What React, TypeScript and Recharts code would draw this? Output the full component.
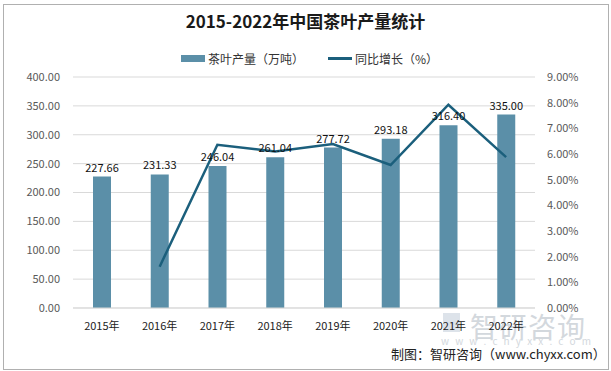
import React from 'react';
import {
  ComposedChart, Bar, Line, XAxis, YAxis, CartesianGrid, LabelList
} from 'recharts';

const years = ['2015年', '2016年', '2017年', '2018年', '2019年', '2020年', '2021年', '2022年'];
const output = [227.66, 231.33, 246.04, 261.04, 277.72, 293.18, 316.4, 335.0];
const growth = [null, 1.61, 6.36, 6.1, 6.39, 5.57, 7.92, 5.88];
const leftTicks = [0, 50, 100, 150, 200, 250, 300, 350, 400];
const rightTicks = [0, 1, 2, 3, 4, 5, 6, 7, 8, 9];

const data = years.map((name, i) => ({ name, output: output[i], growth: growth[i] }));

const barColor = '#5b8fa8';
const lineColor = '#1b5f7c';
const cjk = '"Noto Sans CJK SC", "Liberation Sans", sans-serif';
const markColor = '#d3d8dd';

const App: React.FC = () => {
  return (
    <div style={{ position: 'absolute', left: 0, top: 0, width: 611, height: 371, background: '#fff', fontFamily: cjk }}>
      <div style={{ position: 'absolute', left: 3, top: 4, width: 604, height: 364, border: '1px solid #b0b0b0' }} />
      <div style={{ position: 'absolute', left: 0, top: 8, width: 611, textAlign: 'center', fontSize: 17, fontWeight: 'bold', color: '#1a1a1a' }}>
        2015-2022年中国茶叶产量统计
      </div>
      {/* legend */}
      <div style={{ position: 'absolute', top: 50, left: 181, display: 'flex', alignItems: 'center', fontSize: 12, color: '#333' }}>
        <span style={{ display: 'inline-block', width: 24, height: 7, background: barColor, marginRight: 3 }} />
        <span>茶叶产量（万吨）</span>
        <span style={{ display: 'inline-block', width: 24, height: 3, background: lineColor, marginLeft: 24, marginRight: 3 }} />
        <span>同比增长（%）</span>
      </div>
      {/* watermark */}
      <div style={{ position: 'absolute', left: 443, top: 313, width: 17, height: 19, background: '#dde3ea' }} />
      <div style={{ position: 'absolute', left: 470, top: 306, fontSize: 28, color: markColor, letterSpacing: 1 }}>智研咨询</div>
      <div style={{ position: 'absolute', left: 441, top: 333, width: 150, display: 'flex', justifyContent: 'space-between', fontSize: 10, color: markColor }}>
        {'www.chyxx.com'.split('').map((c, i) => <span key={i}>{c}</span>)}
      </div>
      <div style={{ position: 'absolute', left: 391, top: 344, fontSize: 13, color: '#222' }}>制图：智研咨询（www.chyxx.com）</div>
      <div style={{ position: 'absolute', left: 0, top: 0 }}>
        <ComposedChart
          width={611}
          height={371}
          data={data}
          margin={{ top: 77, right: 6, left: 0, bottom: 33 }}
        >
          <CartesianGrid yAxisId="left" vertical={false} stroke="#d9d9d9" />
          <XAxis
            dataKey="name"
            axisLine={{ stroke: '#d9d9d9' }}
            tickLine={false}
            height={30}
            tickMargin={8}
            tick={{ fontSize: 11, fill: '#222', fontFamily: cjk }}
          />
          <YAxis
            yAxisId="left"
            width={73}
            domain={[0, 400]}
            ticks={leftTicks}
            axisLine={false}
            tickLine={false}
            tickSize={6}
            tickMargin={7}
            tickFormatter={(v: number) => v.toFixed(2)}
            tick={{ fontSize: 11, fill: '#595959', fontFamily: cjk }}
          />
          <YAxis
            yAxisId="right"
            orientation="right"
            width={70}
            domain={[0, 9]}
            ticks={rightTicks}
            axisLine={false}
            tickLine={false}
            tickSize={6}
            tickMargin={6}
            tickFormatter={(v: number) => `${v.toFixed(2)}%`}
            tick={{ fontSize: 11, fill: '#595959', fontFamily: cjk }}
          />
          <Bar yAxisId="left" dataKey="output" fill={barColor} barSize={18} isAnimationActive={false}>
            <LabelList
              dataKey="output"
              position="top"
              formatter={(v: number) => Number(v).toFixed(2)}
              style={{ fontSize: 11, fill: '#111', fontFamily: cjk }}
            />
          </Bar>
          <Line
            yAxisId="right"
            dataKey="growth"
            stroke={lineColor}
            strokeWidth={2.5}
            dot={false}
            type="linear"
            isAnimationActive={false}
          />
        </ComposedChart>
      </div>
    </div>
  );
};

export default App;
